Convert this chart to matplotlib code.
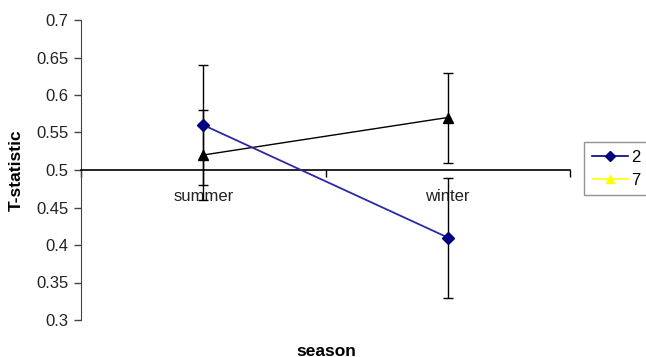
import matplotlib
matplotlib.use("Agg")
import matplotlib.pyplot as plt
from matplotlib.lines import Line2D

plt.rcParams['font.family'] = ['Liberation Sans', 'DejaVu Sans']

seasons = ["summer", "winter"]
series_names = ["2", "7"]
t_2 = [0.56, 0.41]
err_2 = [0.08, 0.08]
t_7 = [0.52, 0.57]
err_7 = [0.06, 0.06]
y_ticks = [0.3, 0.35, 0.4, 0.45, 0.5, 0.55, 0.6, 0.65, 0.7]

W, H = 646, 357
fig = plt.figure(figsize=(W / 100, H / 100), dpi=100)
ax = fig.add_axes([81 / W, 1 - 320 / H, (570 - 81) / W, 300 / H])

x = list(range(len(seasons)))

# series "7" is drawn black in the chart but shows yellow in the legend
ax.errorbar(x, t_7, yerr=err_7, fmt="none", ecolor="black", elinewidth=1.0,
            capsize=3.5, capthick=1.0, zorder=3)
ax.errorbar(x, t_2, yerr=err_2, fmt="none", ecolor="black", elinewidth=1.0,
            capsize=3.5, capthick=1.0, zorder=3)
ax.plot(x, t_7, color="black", lw=1.0, marker="^", ms=7, mfc="black",
        mec="black", zorder=4)
ax.plot(x, t_2, color="#2a2aa6", lw=1.3, marker="D", ms=6, mfc="#000080",
        mec="#000080", zorder=5)

ax.set_xlim(-0.5, len(seasons) - 0.5)
ax.set_ylim(0.3, 0.7)
ax.set_yticks(y_ticks)
ax.set_yticklabels([f"{v:g}" for v in y_ticks])

# category axis crosses at 0.5
for s in ["top", "right"]:
    ax.spines[s].set_visible(False)
ax.spines["bottom"].set_position(("data", 0.5))
ax.spines["bottom"].set_linewidth(1.2)
ax.spines["left"].set_color("#444444")
ax.set_xticks([-0.5, 0.5, 1.5])
ax.set_xticklabels([])
ax.set_xticks(x, minor=True)
ax.set_xticklabels(seasons, minor=True)
ax.tick_params(axis="x", which="major", direction="out", length=5, width=1)
ax.tick_params(axis="x", which="minor", length=0, pad=14, labelsize=12,
               colors="#222222")
ax.tick_params(axis="y", direction="out", length=5, width=1, pad=4,
               labelsize=12, colors="#444444", labelcolor="#222222")

fig.text(326 / W, 1 - 351 / H, "season", ha="center", va="center",
         fontsize=12.5, fontweight="bold")
fig.text(16 / W, 1 - 170 / H, "T-statistic", ha="center", va="center",
         rotation=90, fontsize=12.5, fontweight="bold")

handles = [
    Line2D([], [], color="#000080", lw=1.2, marker="D", ms=5,
           mfc="#000080", mec="#000080"),
    Line2D([], [], color="#ffff00", lw=1.2, marker="^", ms=6,
           mfc="#ffff00", mec="#ffff00"),
]
leg = fig.legend(handles, series_names, loc="upper left",
                 bbox_to_anchor=(584 / W, 1 - 142 / H), fontsize=12,
                 frameon=True, fancybox=False, handlelength=2.2,
                 handletextpad=0.2, borderpad=0.45, labelspacing=0.5,
                 borderaxespad=0)
leg.get_frame().set_edgecolor("#777777")
leg.get_frame().set_linewidth(1.0)

fig.savefig("out.png", dpi=100)
